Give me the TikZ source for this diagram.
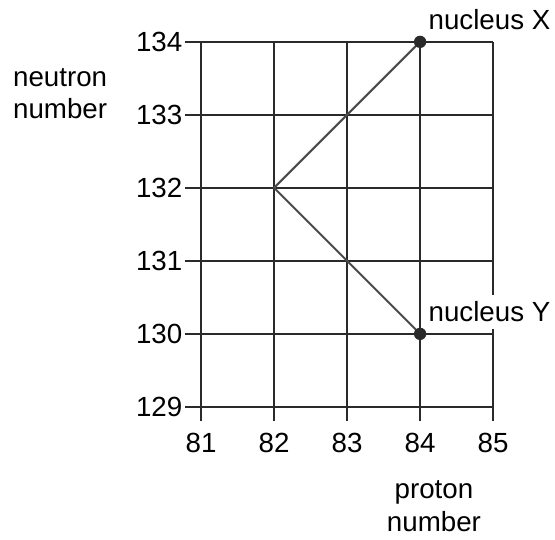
\documentclass[tikz,border=0pt]{standalone}
\usepackage{fontspec}
\setmainfont{Liberation Sans}
\usepackage{tikz}
\definecolor{griglia}{HTML}{2A2A2A}
\definecolor{percorso}{HTML}{4A4A4A}

\begin{document}
\begin{tikzpicture}[x=1cm, y=1cm, font=\fontsize{10.8}{12.6}\selectfont]
  \useasboundingbox (78.247,127.192) rectangle (85.849,134.575);

  % Griglia con tacche
  \foreach \z in {81,...,85}
    \draw[griglia, line width=0.9pt] (\z,128.8) -- (\z,134);
  \foreach \n in {129,...,134}
    \draw[griglia, line width=0.9pt] (80.78,\n) -- (85,\n);

  % Etichette assi
  \foreach \z in {81,...,85}
    \node[anchor=base, inner sep=0pt] (px\z) at (\z,128.38) {\z};
  \foreach \n in {129,...,134}
    \node[anchor=base east, inner sep=0pt] (ny\n) at (80.75,\n-0.135) {\n};
  \node[align=center, inner sep=0pt] (ylab) at (79.07,133.29) {neutron\\number};
  \node[align=center, inner sep=0pt] (xlab) at (84.19,127.64) {proton\\number};

  % Decadimenti
  \coordinate (X) at (84,134);
  \coordinate (M) at (82,132);
  \coordinate (Y) at (84,130);
  \draw[percorso, line width=0.8pt] (X) -- (M) -- (Y);
  \fill[griglia] (X) circle (2.4pt);
  \fill[griglia] (Y) circle (2.4pt);

  % Nuclei
  \node[anchor=west, inner xsep=0pt, inner ysep=2pt] (nX) at (84.11,134.30) {nucleus X};
  \node[anchor=west, fill=white, inner xsep=0pt, inner ysep=2.5pt] (nY) at (84.11,130.30) {nucleus Y};
\end{tikzpicture}
\end{document}
